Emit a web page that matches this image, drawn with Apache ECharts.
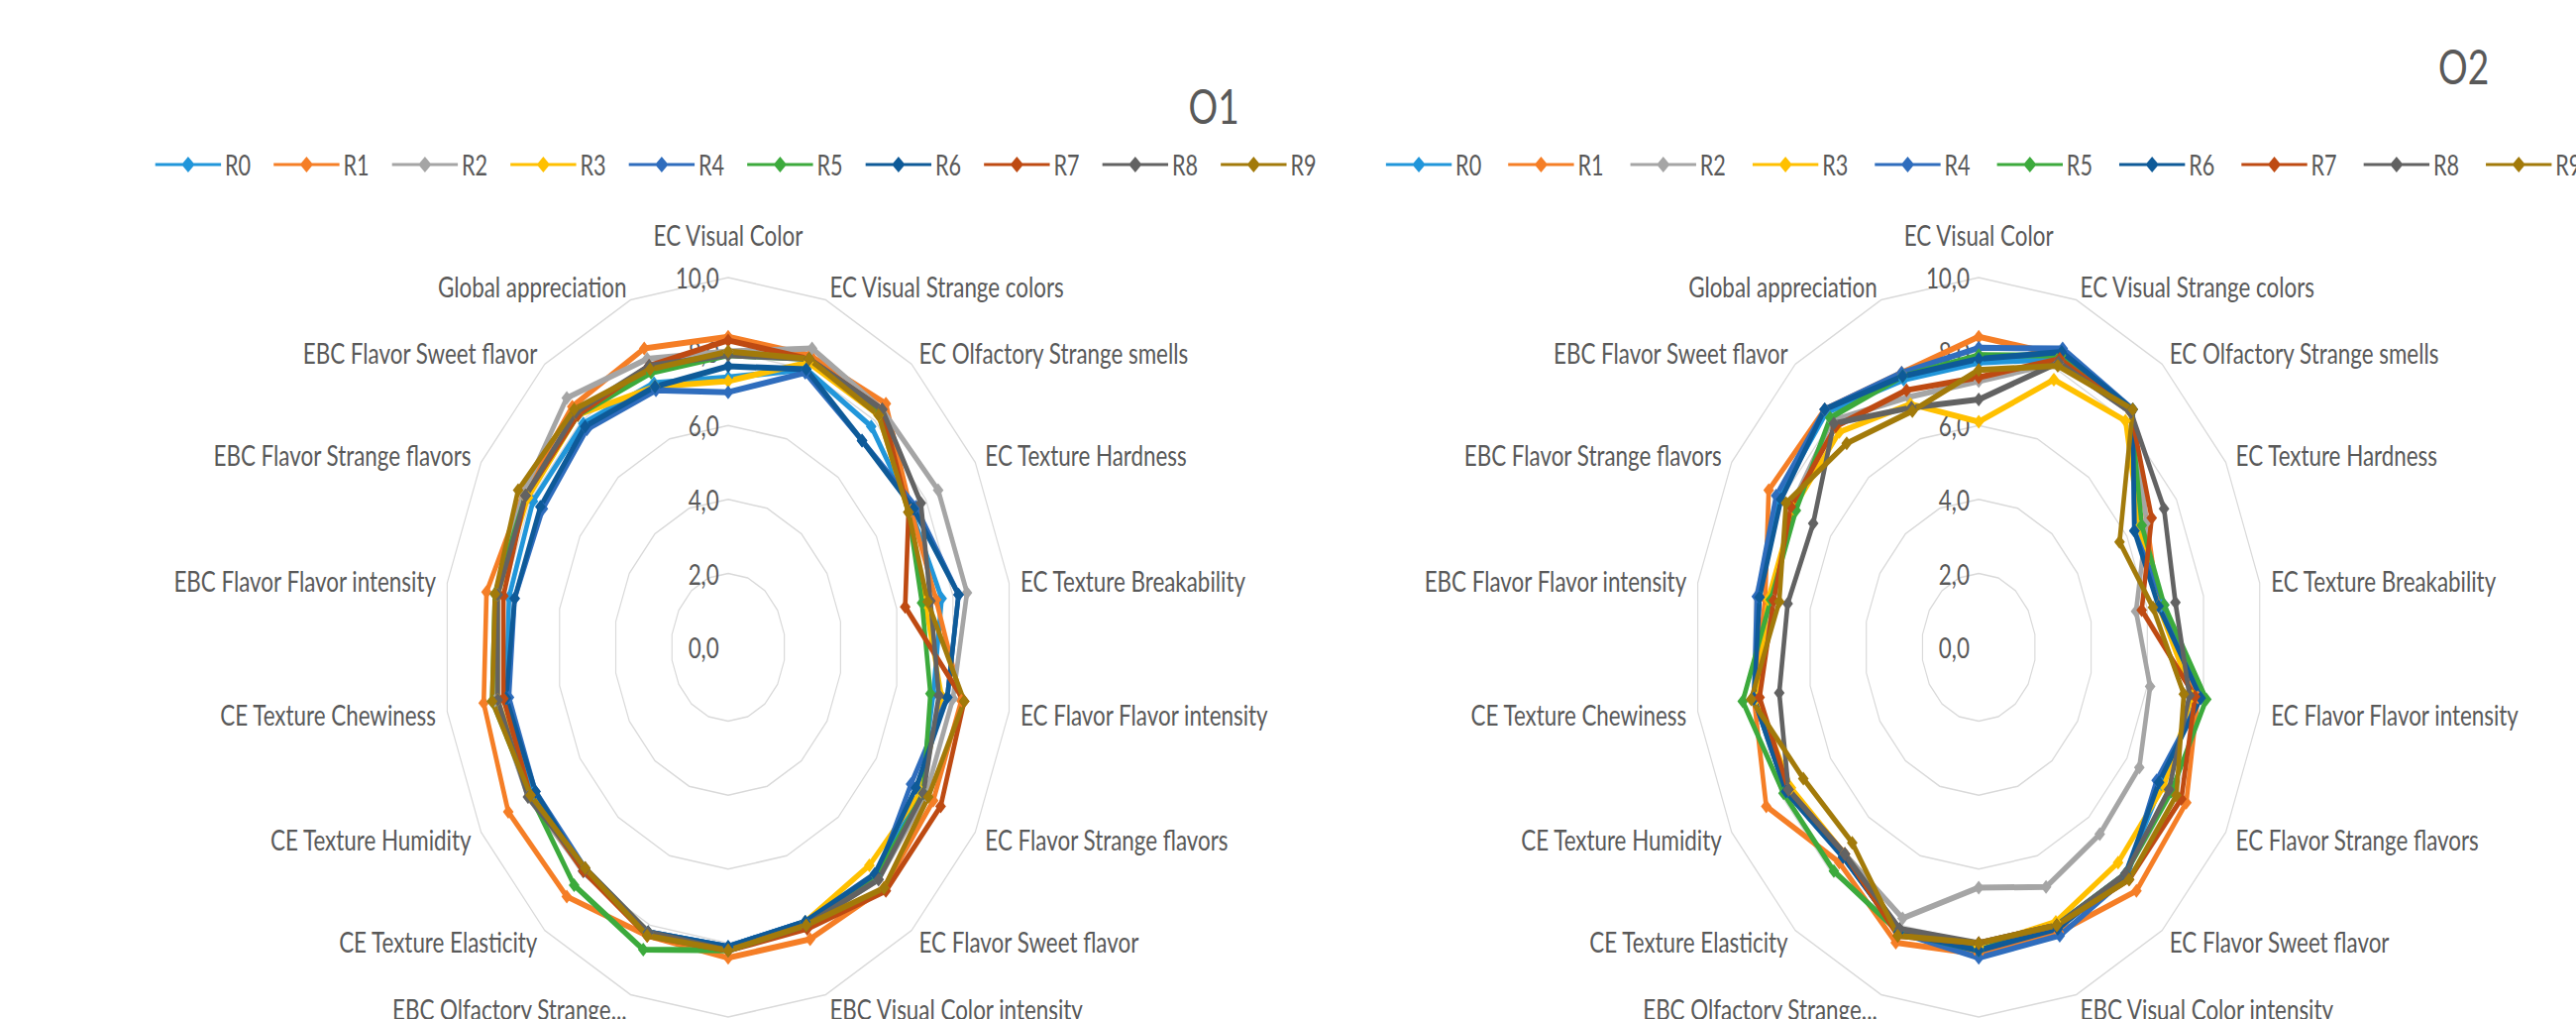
<!DOCTYPE html>
<html>
<head>
<meta charset="utf-8">
<script src="https://cdn.jsdelivr.net/npm/echarts@6/dist/echarts.min.js"></script>
<style>
  html, body { margin: 0; padding: 0; background: #fff; overflow: hidden; }
  #wrap { width: 2600px; height: 1028px; overflow: hidden; position: relative; }
  /* the reference is squeezed horizontally, so draw wide and squeeze */
  #chart { width: 3368px; height: 1028px; transform: scaleX(0.772); transform-origin: 0 0; }
</style>
</head>
<body>
<div id="wrap"><div id="chart"></div></div>
<script>
// axes in clockwise order, starting at the top
const axes = [
  'EC Visual Color',
  'EC Visual Strange colors',
  'EC Olfactory Strange smells',
  'EC Texture Hardness',
  'EC Texture Breakability',
  'EC Flavor Flavor intensity',
  'EC Flavor Strange flavors',
  'EC Flavor Sweet flavor',
  'EBC Visual Color intensity',
  'EBC Visual Strange colors',
  'EBC Olfactory Strange...',
  'CE Texture Elasticity',
  'CE Texture Humidity',
  'CE Texture Chewiness',
  'EBC Flavor Flavor intensity',
  'EBC Flavor Strange flavors',
  'EBC Flavor Sweet flavor',
  'Global appreciation'
]

const seriesNames = ['R0', 'R1', 'R2', 'R3', 'R4', 'R5', 'R6', 'R7', 'R8', 'R9']
const colors = ['#2196DA', '#F57E26', '#A5A5A5', '#FFC000', '#2F6DBD', '#3CAA3C', '#0E5A98', '#BE4A12', '#626262', '#A27A0A']
const tickValues = [0, 2, 4, 6, 8, 10]

// O1 values, one row per series R0..R9
const o1R0 = [7.3, 8.0, 7.8, 7.4, 7.6, 7.3, 7.8, 8.1, 7.9, 8.1, 8.2, 7.9, 7.9, 7.9, 7.8, 7.9, 7.9, 7.6]
const o1R1 = [8.4, 8.4, 8.6, 7.4, 7.4, 8.3, 8.3, 8.5, 8.4, 8.4, 8.3, 8.8, 8.9, 8.7, 8.6, 8.3, 8.5, 8.6]
const o1R2 = [8.0, 8.6, 8.4, 8.5, 8.5, 8.0, 8.0, 8.2, 8.0, 8.2, 8.2, 7.9, 8.1, 8.3, 8.3, 8.3, 8.8, 8.3]
const o1R3 = [7.2, 8.2, 8.2, 7.3, 7.0, 7.6, 7.8, 7.7, 7.9, 8.2, 8.2, 7.8, 8.0, 8.2, 8.2, 8.1, 8.2, 7.5]
const o1R4 = [6.9, 7.9, 7.3, 7.6, 8.2, 7.8, 7.4, 8.1, 7.9, 8.1, 8.2, 7.8, 7.8, 7.8, 7.6, 7.5, 7.7, 7.4]
const o1R5 = [7.9, 8.3, 8.3, 7.3, 6.9, 7.2, 7.9, 8.1, 8.0, 8.2, 8.7, 8.4, 8.0, 8.4, 8.3, 8.2, 8.2, 7.9]
const o1R6 = [7.6, 8.0, 7.3, 7.5, 8.2, 7.8, 7.6, 8.0, 7.9, 8.1, 8.2, 7.9, 7.8, 7.9, 7.6, 7.6, 7.8, 7.5]
const o1R7 = [8.3, 8.3, 8.4, 7.3, 6.3, 8.4, 8.6, 8.6, 8.1, 8.2, 8.3, 7.9, 8.0, 8.0, 8.0, 8.2, 8.2, 8.1]
const o1R8 = [7.9, 8.3, 8.4, 7.8, 7.2, 7.5, 7.9, 8.2, 8.0, 8.2, 8.2, 7.8, 8.1, 8.2, 8.2, 8.2, 8.3, 8.1]
const o1R9 = [8.0, 8.3, 8.2, 7.3, 7.1, 8.4, 8.1, 8.5, 8.0, 8.2, 8.3, 7.8, 8.0, 8.4, 8.3, 8.5, 8.4, 8.0]

// O2 values
const o2R0 = [7.7, 8.3, 8.3, 6.5, 6.5, 7.8, 7.4, 8.0, 8.0, 8.2, 8.2, 7.3, 7.8, 8.0, 7.8, 8.1, 8.3, 7.7]
const o2R1 = [8.4, 8.4, 8.3, 6.8, 6.4, 7.8, 8.4, 8.6, 8.2, 8.3, 8.5, 7.6, 8.6, 8.0, 7.6, 8.5, 8.4, 7.9]
const o2R2 = [7.2, 8.2, 8.3, 6.8, 5.6, 6.1, 6.5, 6.6, 6.9, 6.5, 7.8, 7.3, 7.7, 7.9, 7.3, 7.6, 8.0, 7.2]
const o2R3 = [6.1, 7.7, 8.0, 6.5, 6.4, 7.6, 7.5, 7.6, 7.9, 8.1, 8.2, 7.3, 7.6, 7.9, 7.5, 7.5, 7.6, 7.0]
const o2R4 = [8.1, 8.6, 8.4, 6.3, 6.6, 7.9, 7.2, 8.1, 8.3, 8.4, 8.2, 7.4, 7.8, 8.0, 7.9, 8.2, 8.4, 7.9]
const o2R5 = [7.9, 8.4, 8.3, 6.6, 6.6, 8.1, 7.8, 8.0, 8.0, 8.2, 8.2, 7.9, 7.9, 8.4, 7.4, 7.4, 8.1, 7.8]
const o2R6 = [7.8, 8.5, 8.4, 6.3, 6.4, 7.9, 7.3, 8.0, 8.1, 8.2, 8.2, 7.4, 7.8, 8.0, 7.8, 8.0, 8.4, 7.8]
const o2R7 = [7.3, 8.3, 8.3, 7.0, 5.8, 7.7, 8.2, 8.2, 8.0, 8.0, 8.3, 7.3, 7.7, 7.8, 7.3, 7.6, 7.8, 7.4]
const o2R8 = [6.7, 8.2, 8.3, 7.5, 7.0, 7.5, 7.7, 8.0, 8.0, 8.0, 8.1, 7.3, 7.7, 7.1, 6.8, 6.7, 7.9, 6.9]
const o2R9 = [7.5, 8.1, 8.4, 5.7, 6.2, 7.3, 8.0, 8.2, 8.0, 8.0, 8.3, 6.9, 7.1, 8.1, 7.1, 7.8, 7.2, 6.8]

const o1 = [o1R0, o1R1, o1R2, o1R3, o1R4, o1R5, o1R6, o1R7, o1R8, o1R9]
const o2 = [o2R0, o2R1, o2R2, o2R3, o2R4, o2R5, o2R6, o2R7, o2R8, o2R9]

// echarts radar runs counter-clockwise, the reference runs clockwise
const order = [0].concat(axes.map((_, i) => i).slice(1).reverse())

const font = 'Lato'
const textColor = '#595959'
const legendIcon = 'path://M0,6.5 L36,6.5 L43,0 L50,6.5 L86,6.5 L86,9.5 L50,9.5 L43,16 L36,9.5 L0,9.5 Z'

function makeRadar(cx) {
  return {
    center: [cx, 653],
    radius: 373,
    startAngle: 90,
    shape: 'polygon',
    splitNumber: tickValues.length - 1,
    nameGap: 15,
    axisName: { color: textColor, fontSize: 29, fontFamily: font },
    indicator: order.map((k, j) => {
      const ind = { name: axes[k], min: tickValues[0], max: tickValues[tickValues.length - 1] }
      if (j === 0) {
        // top axis carries the value labels, and its name sits a little higher
        ind.nameTextStyle = { padding: [0, 0, 14, 0] }
        ind.axisLabel = {
          show: true,
          color: textColor,
          fontSize: 29,
          fontFamily: font,
          margin: 12,
          formatter: (v) => v.toFixed(1).replace('.', ',')
        }
      }
      return ind
    }),
    splitLine: { lineStyle: { color: '#D9D9D9', width: 1.5 } },
    splitArea: { show: false },
    axisLine: { show: false },
    axisTick: { show: false },
    axisLabel: { show: false }
  }
}

function makeSeries(values, radarIndex) {
  return values.map((row, i) => ({
    type: 'radar',
    name: seriesNames[i],
    radarIndex: radarIndex,
    symbol: 'diamond',
    symbolSize: 14,
    itemStyle: { color: colors[i] },
    lineStyle: { color: colors[i], width: 6 },
    emphasis: { disabled: true },
    data: [{ name: seriesNames[i], value: order.map((k) => row[k]) }]
  }))
}

function makeLegend(left, gap) {
  return {
    left: left,
    top: 147,
    width: 2400,
    orient: 'horizontal',
    data: seriesNames,
    icon: legendIcon,
    itemWidth: 86,
    itemHeight: 16,
    itemGap: gap,
    textStyle: { color: textColor, fontSize: 28, fontFamily: font }
  }
}

const chart = echarts.init(document.getElementById('chart'), null, { renderer: 'svg' })

chart.setOption({
  animation: false,
  backgroundColor: '#ffffff',
  color: colors,
  title: [
    { text: 'O1', left: 1582, top: 78, textAlign: 'center', textStyle: { fontSize: 48, fontWeight: 'normal', color: textColor, fontFamily: font } },
    { text: 'O2', left: 3216, top: 38, textAlign: 'center', textStyle: { fontSize: 48, fontWeight: 'normal', color: textColor, fontFamily: font } }
  ],
  legend: [makeLegend(198, 30), makeLegend(1807, 35)],
  radar: [makeRadar(952), makeRadar(2587)],
  series: makeSeries(o1, 0).concat(makeSeries(o2, 1))
})
</script>
</body>
</html>
